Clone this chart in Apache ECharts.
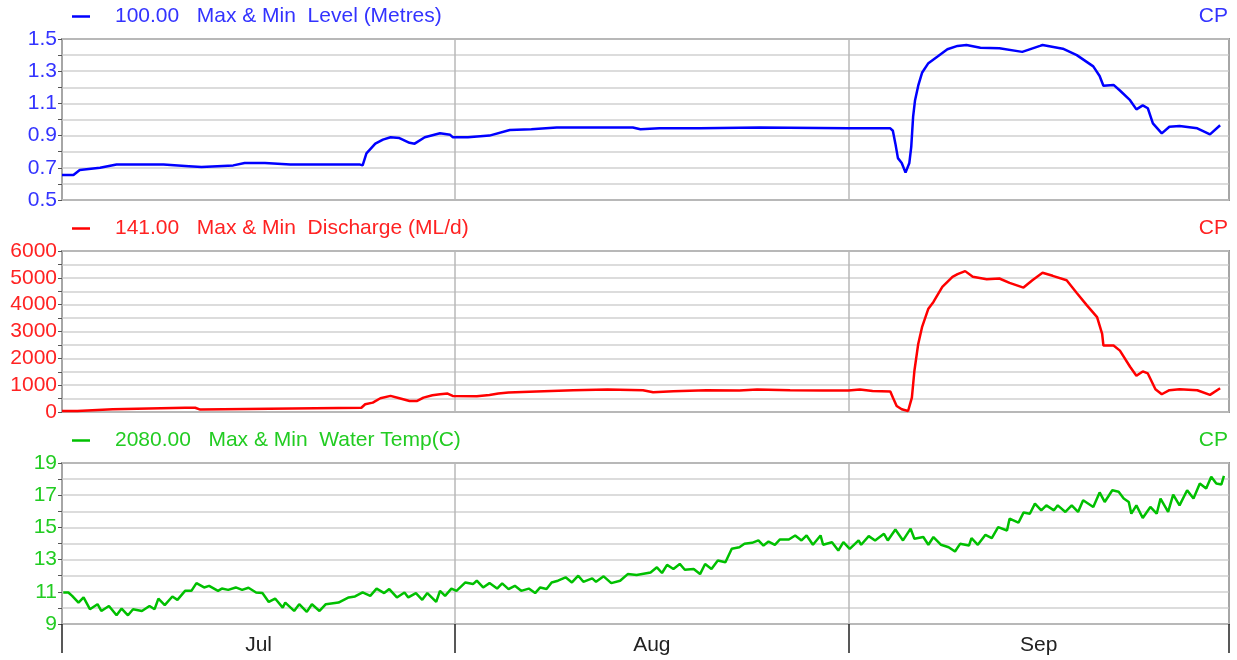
<!DOCTYPE html>
<html>
<head>
<meta charset="utf-8">
<script src="https://cdn.jsdelivr.net/npm/echarts@6/dist/echarts.min.js"></script>
<style>
  html, body { margin: 0; padding: 0; background: #fff; }
  #chart { width: 1237px; height: 660px; }
</style>
</head>
<body>
<div id="chart"></div>
<script>
// x values are days counted from 1 Jul
const monthNames = ['Jul', 'Aug', 'Sep'];
const monthStartDays = [0, 31, 62, 92];
const monthMidDays = [15.5, 46.5, 77];

// Level (Metres), [day, value]
const levelData = [
  [0, 0.655], [0.9, 0.655], [1.4, 0.686], [3, 0.70], [4.3, 0.72], [8, 0.72], [10, 0.71], [11, 0.705],
  [13.5, 0.715], [14.4, 0.73], [16, 0.73], [18, 0.72], [23.5, 0.72], [23.7, 0.715], [24.0, 0.79],
  [24.7, 0.85], [25.3, 0.875], [25.9, 0.89], [26.6, 0.885], [27.4, 0.855], [27.8, 0.85], [28.6, 0.89],
  [29.8, 0.915], [30.6, 0.905], [30.8, 0.89], [32, 0.89], [33.7, 0.90], [35.3, 0.935], [37, 0.94],
  [39, 0.95], [45, 0.95], [45.6, 0.94], [47.1, 0.945], [50.3, 0.945], [55, 0.95], [62, 0.945],
  [65.3, 0.945], [65.5, 0.93], [65.7, 0.85], [65.9, 0.76], [66.2, 0.73], [66.5, 0.67], [66.8, 0.73],
  [66.95, 0.83], [67.1, 1.02], [67.25, 1.12], [67.5, 1.21], [67.8, 1.29], [68.3, 1.35], [69.0, 1.39],
  [69.8, 1.436], [70.6, 1.457], [71.3, 1.463], [72.4, 1.446], [73.9, 1.442], [75.7, 1.42], [77.1, 1.457],
  [77.3, 1.463], [78.9, 1.44], [80.0, 1.40], [81.3, 1.33], [81.8, 1.27], [82.1, 1.21], [82.9, 1.215],
  [83.4, 1.18], [84.2, 1.12], [84.7, 1.063], [85.2, 1.088], [85.6, 1.07], [86.0, 0.976], [86.7, 0.914],
  [87.3, 0.955], [88.1, 0.96], [89.5, 0.945], [90.5, 0.908], [91.3, 0.964]
];

// Discharge (ML/d), [day, value]
const dischargeData = [
  [0, 40], [1.2, 40], [1.3, 100], [4.0, 100], [4.1, 160], [9.7, 160], [9.75, 100], [9.8, 160],
  [10.5, 160], [10.6, 90], [10.9, 90], [11, 160], [23.6, 160], [23.9, 287], [24.5, 350], [25.1, 512],
  [25.9, 600], [26.6, 512], [27.4, 412], [28.0, 412], [28.5, 537], [29.2, 625], [29.8, 662], [30.4, 687],
  [30.8, 600], [32.7, 587], [33.7, 637], [34.4, 687], [35.2, 725], [37.4, 762], [40.3, 812], [43, 837],
  [45.8, 812], [46.6, 737], [48.2, 775], [50.8, 812], [53.4, 800], [54.8, 837], [57.4, 812], [60, 800],
  [62, 800], [62.9, 837], [63.9, 787], [65.3, 762], [65.5, 537], [65.8, 225], [66.2, 100], [66.7, 37],
  [67.0, 537], [67.2, 1537], [67.5, 2537], [67.8, 3162], [68.3, 3850], [68.7, 4100], [69.4, 4662],
  [70.2, 5037], [70.6, 5137], [71.2, 5250], [71.8, 5037], [72.9, 4950], [73.9, 4975], [74.7, 4812],
  [75.8, 4637], [76.5, 4912], [77.3, 5187], [78.1, 5075], [79.2, 4912], [80, 4437], [80.8, 3975],
  [81.6, 3537], [82, 2912], [82.1, 2475], [82.9, 2475], [83.4, 2287], [84.2, 1687], [84.7, 1350],
  [85.2, 1512], [85.6, 1437], [86.2, 850], [86.7, 662], [87.3, 812], [88.1, 850], [89.5, 812],
  [90.5, 637], [91.3, 887]
];

// Water Temp (C), [day, value]
const tempData = [
  [0.1, 10.96], [0.5, 10.96], [0.8, 10.75], [1.3, 10.33], [1.7, 10.65], [2.2, 9.92], [2.8, 10.23],
  [3.1, 9.81], [3.7, 10.12], [4.3, 9.54], [4.7, 9.96], [5.2, 9.54], [5.6, 9.92], [6.3, 9.81], [6.9, 10.12],
  [7.3, 9.92], [7.6, 10.58], [8.1, 10.17], [8.7, 10.71], [9.1, 10.5], [9.7, 11.06], [10.2, 11.06],
  [10.6, 11.54], [11.2, 11.27], [11.6, 11.37], [12.3, 11.06], [12.6, 11.2], [13.1, 11.12], [13.7, 11.27],
  [14.2, 11.12], [14.7, 11.25], [15.3, 10.96], [15.8, 10.92], [16.3, 10.37], [16.8, 10.58], [17.4, 10.02],
  [17.6, 10.33], [18.3, 9.81], [18.7, 10.23], [19.3, 9.75], [19.7, 10.23], [20.3, 9.81], [20.8, 10.23],
  [21.8, 10.33], [22.6, 10.65], [23.1, 10.71], [23.7, 10.96], [24.3, 10.75], [24.8, 11.2], [25.4, 10.92],
  [25.8, 11.17], [26.4, 10.65], [27.0, 10.96], [27.3, 10.65], [27.9, 10.92], [28.4, 10.5], [28.8, 10.92],
  [29.5, 10.37], [29.8, 11.06], [30.2, 10.75], [30.7, 11.2], [31.1, 11.06], [31.8, 11.58], [32.4, 11.48],
  [32.7, 11.69], [33.2, 11.27], [33.7, 11.54], [34.3, 11.2], [34.7, 11.52], [35.2, 11.17], [35.7, 11.37],
  [36.2, 11.06], [36.8, 11.2], [37.3, 10.92], [37.7, 11.27], [38.2, 11.17], [38.6, 11.58], [39.1, 11.69],
  [39.7, 11.9], [40.2, 11.58], [40.7, 12.0], [41.1, 11.62], [41.8, 11.83], [42.1, 11.62], [42.7, 11.96],
  [43.3, 11.54], [44.0, 11.69], [44.6, 12.1], [45.3, 12.04], [46.4, 12.2], [46.9, 12.52], [47.3, 12.17],
  [47.7, 12.67], [48.2, 12.42], [48.7, 12.73], [49.1, 12.37], [49.8, 12.42], [50.3, 12.1], [50.7, 12.73],
  [51.2, 12.42], [51.7, 12.94], [52.3, 12.83], [52.8, 13.67], [53.4, 13.77], [53.8, 13.98], [54.4, 14.04],
  [54.9, 14.19], [55.3, 13.87], [55.7, 14.12], [56.2, 13.92], [56.6, 14.25], [57.3, 14.25], [57.8, 14.5],
  [58.3, 14.19], [58.7, 14.5], [59.2, 13.92], [59.8, 14.5], [60.0, 13.92], [60.7, 14.08], [61.2, 13.56],
  [61.6, 14.08], [62.1, 13.67], [62.8, 14.19], [63.0, 13.92], [63.6, 14.46], [64.1, 14.19], [64.8, 14.6],
  [65.1, 14.19], [65.7, 14.87], [66.3, 14.19], [66.9, 14.92], [67.2, 14.29], [67.9, 14.4], [68.3, 13.92],
  [68.7, 14.4], [69.3, 13.92], [69.9, 13.77], [70.4, 13.5], [70.8, 13.98], [71.5, 13.87], [71.7, 14.33],
  [72.2, 13.92], [72.8, 14.54], [73.3, 14.33], [73.8, 15.02], [74.5, 14.81], [74.7, 15.54], [75.4, 15.29],
  [75.8, 15.92], [76.3, 15.85], [76.7, 16.48], [77.2, 16.06], [77.6, 16.37], [78.2, 16.06], [78.5, 16.37],
  [79.1, 15.96], [79.6, 16.37], [80.1, 15.96], [80.5, 16.69], [81.3, 16.27], [81.8, 17.17], [82.2, 16.58],
  [82.8, 17.31], [83.3, 17.21], [83.7, 16.79], [84.1, 16.58], [84.3, 15.85], [84.7, 16.37], [85.2, 15.58],
  [85.8, 16.27], [86.3, 15.85], [86.6, 16.79], [87.2, 15.96], [87.6, 17.04], [88.1, 16.37], [88.7, 17.31],
  [89.2, 16.79], [89.7, 17.73], [90.2, 17.42], [90.6, 18.15], [91.0, 17.73], [91.4, 17.67], [91.6, 18.2]
];

const panels = [
  { name: 'Level (Metres)', code: '100.00', data: levelData, line: '#0000ff', text: '#3333ff',
    min: 0.5, max: 1.5, step: 0.1, digits: 1 },
  { name: 'Discharge (ML/d)', code: '141.00', data: dischargeData, line: '#ff0000', text: '#ff2222',
    min: 0, max: 6000, step: 500, digits: 0 },
  { name: 'Water Temp(C)', code: '2080.00', data: tempData, line: '#00c000', text: '#22cc22',
    min: 9, max: 19, step: 1, digits: 0 }
];

const font = 'Liberation Sans, Arial, sans-serif';
const gridTops = [39, 251, 463];
const plotH = 161;

const chart = echarts.init(document.getElementById('chart'));

const option = {
  animation: false,
  textStyle: { fontFamily: font },
  title: panels.map((p, i) => ({
    text: 'CP',
    right: 9,
    top: gridTops[i] - 33,
    padding: 0,
    textStyle: { color: p.text, fontSize: 21, fontWeight: 'normal', fontFamily: font }
  })),
  legend: panels.map((p, i) => ({
    data: [p.name],
    left: 72,
    top: gridTops[i] - 33,
    padding: 0,
    icon: 'rect',
    itemWidth: 18,
    itemHeight: 2.5,
    formatter: () => p.code + '   Max & Min  ' + p.name,
    textStyle: { color: p.text, fontSize: 21, fontFamily: font, padding: [0, 0, 0, 20] }
  })),
  grid: panels.map((p, i) => ({
    left: 62,
    width: 1167,
    top: gridTops[i],
    height: plotH,
    show: true,
    borderColor: '#444',
    borderWidth: 1.5,
    backgroundColor: '#fff'
  })),
  xAxis: panels.map((p, i) => ({
    type: 'value',
    gridIndex: i,
    min: monthStartDays[0],
    max: monthStartDays[3],
    axisLine: { show: false },
    axisTick: {
      show: i === 2,
      customValues: monthStartDays,
      length: 29,
      lineStyle: { color: '#222', width: 1.5 }
    },
    axisLabel: {
      show: i === 2,
      customValues: monthMidDays,
      formatter: v => monthNames[monthMidDays.indexOf(v)],
      color: '#222',
      fontSize: 21,
      fontFamily: font,
      margin: 11
    },
    splitLine: { show: true, lineStyle: { color: '#b8b8b8', width: 1.5 } }
  })),
  yAxis: panels.map((p, i) => ({
    type: 'value',
    gridIndex: i,
    min: p.min,
    max: p.max,
    interval: p.step,
    axisLine: { show: false },
    axisTick: { show: true, length: 4, lineStyle: { color: '#555' } },
    axisLabel: {
      color: p.text,
      fontSize: 21,
      fontFamily: font,
      margin: 5,
      formatter: v => {
        const k = Math.round((v - p.min) / p.step);
        return k % 2 === 0 ? v.toFixed(p.digits) : '';
      }
    },
    splitLine: { show: true, lineStyle: { color: '#d0d0d0', width: 1.5 } }
  })),
  series: panels.map((p, i) => ({
    name: p.name,
    type: 'line',
    xAxisIndex: i,
    yAxisIndex: i,
    data: p.data,
    showSymbol: false,
    color: p.line,
    lineStyle: { color: p.line, width: 2.5 }
  }))
};

chart.setOption(option);
</script>
</body>
</html>
